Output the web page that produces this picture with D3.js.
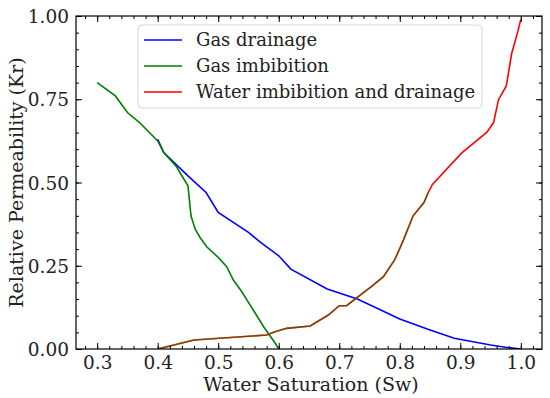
<!DOCTYPE html>
<html>
<head>
<meta charset="utf-8">
<script src="https://cdn.jsdelivr.net/npm/d3@7"></script>
<style>
  body { margin: 0; background: #fff; }
  svg { font-family: "DejaVu Serif", serif; }
</style>
</head>
<body>
<div class="chart"></div>
<script>
var W = 550, H = 398;
var margin = {top: 16, right: 8, bottom: 49, left: 76};

// data
var drainX = [0.40, 0.41, 0.45, 0.48, 0.50, 0.55, 0.57, 0.60, 0.62, 0.68, 0.73, 0.80, 0.85, 0.89, 0.95, 0.98, 1.00];
var drainY = [0.63, 0.59, 0.52, 0.47, 0.41, 0.35, 0.32, 0.28, 0.24, 0.18, 0.15, 0.09, 0.057, 0.032, 0.012, 0.004, 0.0];

var imbX = [0.30, 0.33, 0.35, 0.37, 0.40, 0.41, 0.43, 0.45, 0.455, 0.462, 0.47, 0.481, 0.50, 0.514, 0.525, 0.539, 0.55, 0.558, 0.575, 0.594, 0.60];
var imbY = [0.80, 0.76, 0.71, 0.68, 0.625, 0.59, 0.55, 0.49, 0.40, 0.36, 0.335, 0.307, 0.275, 0.247, 0.207, 0.172, 0.14, 0.117, 0.067, 0.018, 0.0];

var waterX = [0.40, 0.46, 0.58, 0.594, 0.613, 0.652, 0.682, 0.70, 0.712, 0.754, 0.773, 0.792, 0.806, 0.822, 0.84, 0.847, 0.854, 0.902, 0.944, 0.955, 0.963, 0.976, 0.985, 0.995, 1.00];
var waterY = [0.0, 0.027, 0.042, 0.052, 0.062, 0.069, 0.102, 0.13, 0.13, 0.189, 0.217, 0.269, 0.327, 0.40, 0.44, 0.47, 0.494, 0.588, 0.651, 0.68, 0.748, 0.79, 0.888, 0.953, 0.99];

var xTicks = [0.3, 0.4, 0.5, 0.6, 0.7, 0.8, 0.9, 1.0];
var yTicks = [0.00, 0.25, 0.50, 0.75, 1.00];
var legendNames = ["Gas drainage", "Gas imbibition", "Water imbibition and drainage"];
var legendColors = ["#0000ff", "#008000", "#ff0000"];

var svg = d3.select(".chart").append("svg").attr("width", W).attr("height", H);
var iw = W - margin.left - margin.right, ih = H - margin.top - margin.bottom;
var g = svg.append("g").attr("transform", `translate(${margin.left},${margin.top})`);

var x = d3.scaleLinear().domain([0.265, 1.035]).range([0, iw]);
var y = d3.scaleLinear().domain([0, 1]).range([ih, 0]);

svg.append("defs").append("clipPath").attr("id", "clip")
  .append("rect").attr("width", iw).attr("height", ih);

var line = d3.line().x(d => x(d[0])).y(d => y(d[1]));
var plot = g.append("g").attr("clip-path", "url(#clip)");

function pairs(xs, ys) { return xs.map((v, i) => [v, ys[i]]); }

plot.append("path").datum(pairs(drainX, drainY)).attr("d", line)
  .attr("fill", "none").attr("stroke", legendColors[0]).attr("stroke-width", 1.6);
plot.append("path").datum(pairs(imbX, imbY)).attr("d", line)
  .attr("fill", "none").attr("stroke", legendColors[1]).attr("stroke-width", 1.6);
plot.append("path").datum(pairs(waterX, waterY)).attr("d", line)
  .attr("fill", "none").attr("stroke", legendColors[2]).attr("stroke-width", 1.6);
// lower part of the water curve appears brown (overlapping green at half alpha)
plot.append("path").datum(pairs(waterX, waterY).filter(d => d[0] <= 0.847)).attr("d", line)
  .attr("fill", "none").attr("stroke", "#008000").attr("stroke-opacity", 0.5).attr("stroke-width", 1.6);

// ticks on all sides, pointing in
var xMinor = d3.range(0.28, 1.035, 0.02);
var yMinor = d3.range(0, 1.0001, 0.05);
function tickSet(axis, scale, vals, size, labels, pad) {
  var a = axis(scale).tickValues(vals).tickSizeInner(-size).tickSizeOuter(0).tickPadding(pad || size + 4);
  if (!labels) a.tickFormat("");
  return a;
}
var bottom = g.append("g").attr("transform", `translate(0,${ih})`)
  .call(tickSet(d3.axisBottom, x, xTicks, 6, true, 13).tickFormat(d3.format(".1f")));
g.append("g").attr("transform", `translate(0,${ih})`).call(tickSet(d3.axisBottom, x, xMinor, 3, false));
g.append("g").call(tickSet(d3.axisTop, x, xTicks, 6, false));
g.append("g").call(tickSet(d3.axisTop, x, xMinor, 3, false));
var left = g.append("g").call(tickSet(d3.axisLeft, y, yTicks, 6, true).tickFormat(d3.format(".2f")));
g.append("g").call(tickSet(d3.axisLeft, y, yMinor, 3, false));
g.append("g").attr("transform", `translate(${iw},0)`).call(tickSet(d3.axisRight, y, yTicks, 6, false));
g.append("g").attr("transform", `translate(${iw},0)`).call(tickSet(d3.axisRight, y, yMinor, 3, false));

g.selectAll(".domain").remove();
g.selectAll(".tick line").attr("stroke", "#000").attr("stroke-width", 1);
g.selectAll(".tick text").attr("font-family", "DejaVu Serif").attr("font-size", 18.5).attr("fill", "#222");
bottom.selectAll(".tick text").attr("dy", "0.36em").attr("y", 13);
left.selectAll(".tick text").attr("dx", "3").attr("dy", "0.36em");

g.append("rect").attr("width", iw).attr("height", ih)
  .attr("fill", "none").attr("stroke", "#000").attr("stroke-width", 1.2);

svg.append("text").attr("x", margin.left + iw / 2 + 2).attr("y", H - 7)
  .attr("text-anchor", "middle").attr("font-size", 19).attr("fill", "#222")
  .text("Water Saturation (Sw)");
svg.append("text").attr("transform", `translate(23,${margin.top + ih / 2}) rotate(-90)`)
  .attr("text-anchor", "middle").attr("font-size", 19).attr("fill", "#222")
  .text("Relative Permeability (Kr)");

// legend
var lg = g.append("g").attr("transform", "translate(62,9)");
lg.append("rect").attr("width", 344).attr("height", 83).attr("rx", 4)
  .attr("fill", "#fff").attr("fill-opacity", 0.8).attr("stroke", "#d6d6d6");
legendNames.forEach(function (name, i) {
  var yy = 15 + i * 26;
  lg.append("line").attr("x1", 6).attr("x2", 44).attr("y1", yy).attr("y2", yy)
    .attr("stroke", legendColors[i]).attr("stroke-width", 1.6);
  lg.append("text").attr("x", 58).attr("y", yy).attr("dy", "0.35em")
    .attr("font-size", 18).attr("fill", "#222").text(name);
});
</script>
</body>
</html>
